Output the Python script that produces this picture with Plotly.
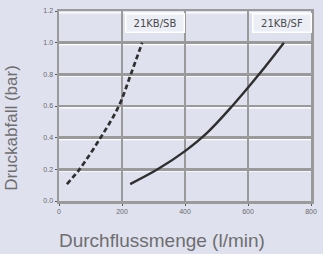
import plotly.graph_objects as go

# Data
sb_flow = [25, 65, 132, 190, 228, 264]
sb_drop = [0.107, 0.2, 0.4, 0.6, 0.8, 1.0]

sf_flow = [226, 313, 400, 470, 550, 635, 714]
sf_drop = [0.107, 0.2, 0.315, 0.43, 0.6, 0.8, 1.0]

x_ticks = [0, 200, 400, 600, 800]
y_ticks = [0.0, 0.2, 0.4, 0.6, 0.8, 1.0, 1.2]
y_tick_labels = ["0.0", "0.2", "0.4", "0.6", "0.8", "1.0", "1.2"]

series_labels = ["21KB/SB", "21KB/SF"]
label_pos = [(305, 1.127), (707, 1.127)]

BG = "#dfe1ef"
GRID = "#9a9a9a"
LINE = "#2f2f2f"
TXT = "#6a6a6a"

fig = go.Figure()
fig.add_trace(go.Scatter(x=sb_flow, y=sb_drop, mode="lines",
                         line=dict(color=LINE, width=2.7, dash="5px,3px", shape="spline", smoothing=1.0),
                         showlegend=False, hoverinfo="skip"))
fig.add_trace(go.Scatter(x=sf_flow, y=sf_drop, mode="lines",
                         line=dict(color=LINE, width=2.4, shape="spline", smoothing=1.0),
                         showlegend=False, hoverinfo="skip"))

# white highlight under the horizontal grid lines
for yv in y_ticks:
    fig.add_shape(type="line", xref="x", yref="y", x0=x_ticks[0], x1=x_ticks[-1],
                  y0=yv - 0.012, y1=yv - 0.012, line=dict(color="white", width=1.2),
                  layer="below")

for txt, (lx, ly) in zip(series_labels, label_pos):
    fig.add_annotation(x=lx, y=ly, text=txt, showarrow=False,
                       font=dict(family="DejaVu Sans, sans-serif", size=10, color="#4a4a4a"),
                       bgcolor="#eceef6", bordercolor="white", borderwidth=1.5, borderpad=1,
                       width=55, height=15, align="center", valign="middle")

title_font = dict(family="Liberation Sans, Arial, sans-serif", size=19, color="#6e6e6e")
fig.add_annotation(text="Durchflussmenge (l/min)", xref="paper", yref="paper",
                   x=0.41, y=0, yshift=-39, showarrow=False, font=title_font,
                   xanchor="center", yanchor="middle")
fig.add_annotation(text="Druckabfall (bar)", xref="paper", yref="paper",
                   x=0, xshift=-47, y=0.385, showarrow=False, textangle=-90,
                   font=dict(family="Liberation Sans, Arial, sans-serif", size=17, color="#6e6e6e"),
                   xanchor="center", yanchor="middle")

fig.update_layout(
    width=323, height=254,
    margin=dict(l=59, r=6, t=11, b=53),
    paper_bgcolor=BG, plot_bgcolor=BG,
    hovermode=False,
    font=dict(family="Liberation Sans, Arial, sans-serif", color=TXT),
    xaxis=dict(range=[0, 800], tickvals=x_ticks, ticktext=[str(v) for v in x_ticks],
               showgrid=True, gridcolor=GRID, gridwidth=2.5, zeroline=False,
               showline=True, linecolor=GRID, linewidth=2.5, mirror=True,
               ticks="outside", ticklen=2, tickcolor="#555",
               tickfont=dict(size=7, color=TXT)),
    yaxis=dict(range=[0, 1.2], tickvals=y_ticks, ticktext=y_tick_labels,
               showgrid=True, gridcolor=GRID, gridwidth=2.5, zeroline=False,
               showline=True, linecolor=GRID, linewidth=2.5, mirror=True,
               ticks="outside", ticklen=2, tickcolor="#555",
               tickfont=dict(size=7, color=TXT)),
)

# remove the default 8px page margin so the figure fills the window
fig.write_html("out.html", config={"displayModeBar": False, "staticPlot": True},
               post_script="document.body.style.margin='0';document.body.style.overflow='hidden';"
                           "document.body.style.background='%s';" % BG)
